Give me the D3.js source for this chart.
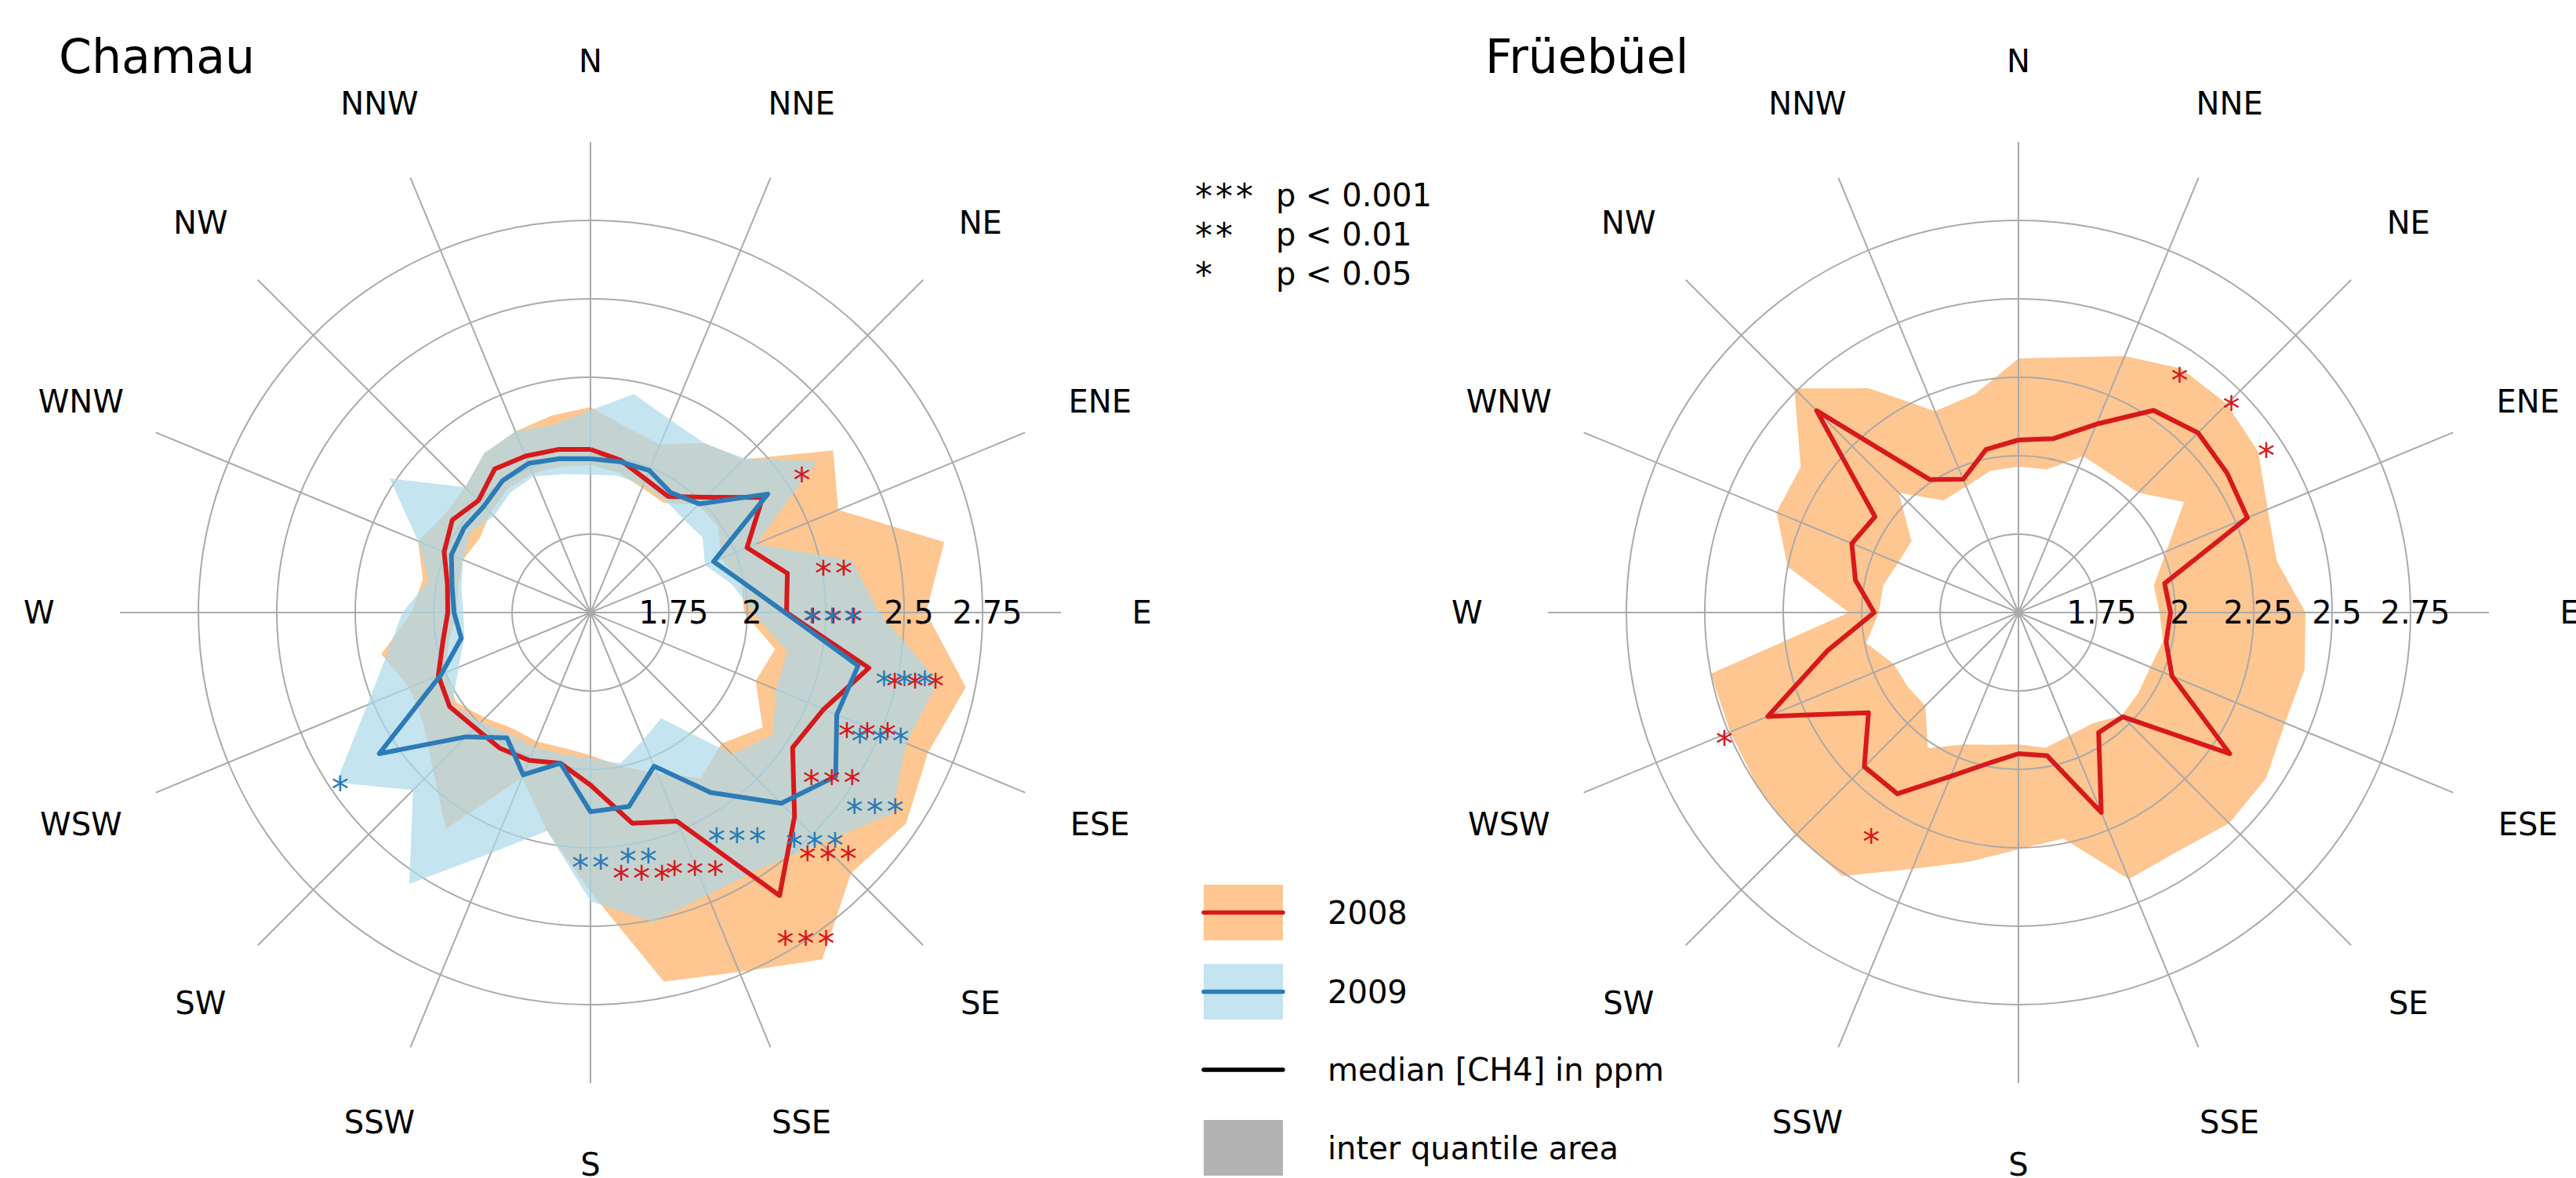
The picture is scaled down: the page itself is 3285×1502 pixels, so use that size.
<!DOCTYPE html>
<html>
<head>
<meta charset="utf-8">
<script src="https://cdn.jsdelivr.net/npm/d3@7"></script>
<style>
body { margin: 0; background: #fff; }
svg { font-family: "DejaVu Sans", sans-serif; display: block; }
</style>
</head>
<body>
<svg id="chart"></svg>
<script>
var directions = ["N", "NNE", "NE", "ENE", "E", "ESE", "SE", "SSE", "S", "SSW", "SW", "WSW", "W", "WNW", "NW", "NNW"];
var ringTicks = [1.75, 2, 2.25, 2.5, 2.75];
var chamauTickLabels = [1.75, 2, 2.5, 2.75];
var fruebuelTickLabels = [1.75, 2, 2.25, 2.5, 2.75];

// 32 sectors of 11.25 deg, from N clockwise, median [CH4] in ppm
var chamauMedian2008 = [2.02, 1.995, 1.96, 1.945, 2.02, 2.16, 2.04, 2.14, 2.125, 2.405, 2.305, 2.275, 2.42, 2.585, 2.22, 2.185,
    2.05, 1.99, 2.01, 2.02, 2.02, 2.04, 2.025, 1.98, 1.955, 1.965, 2.005, 2.03, 2.005, 2.05, 2.04, 2.03];
var chamauLower2008 = [1.97, 1.955, 1.93, 1.92, 1.985, 1.99, 1.95, 1.99, 1.99, 2.1, 2.07, 2.16, 2.09, 2.135, 2.055, 2.0,
    1.955, 1.94, 1.945, 1.945, 1.975, 2.015, 2.0, 1.96, 1.925, 1.93, 1.94, 1.925, 1.95, 1.975, 1.98, 1.975];
var chamauUpper2008 = [2.155, 2.1, 2.08, 2.15, 2.19, 2.43, 2.355, 2.65, 2.57, 2.72, 2.665, 2.71, 2.675, 2.83, 2.74, 2.7,
    2.39, 2.21, 2.07, 2.33, 2.21, 2.14, 2.125, 2.18, 2.07, 2.045, 2.095, 2.06, 2.065, 2.11, 2.125, 2.14];

var chamauMedian2009 = [1.99, 1.99, 1.99, 1.96, 1.99, 2.18, 1.925, 1.995, 2.12, 2.37, 2.35, 2.44, 2.36, 2.19, 2.03, 2.13,
    2.135, 1.99, 2.06, 1.98, 2.06, 2.31, 2.015, 1.92, 1.935, 1.95, 1.98, 1.985, 1.98, 2.005, 2.015, 2.0];
var chamauLower2009 = [1.94, 1.945, 1.94, 1.93, 1.92, 1.93, 1.895, 1.96, 2.02, 2.14, 2.14, 2.2, 2.14, 1.905, 1.94, 1.99,
    1.965, 1.96, 1.965, 1.965, 1.995, 2.03, 1.955, 1.91, 1.905, 1.92, 1.94, 1.96, 1.935, 1.96, 1.97, 1.95];
var chamauUpper2009 = [2.145, 2.21, 2.165, 2.15, 2.195, 2.37, 2.07, 2.35, 2.42, 2.63, 2.59, 2.655, 2.54, 2.48, 2.475, 2.505,
    2.42, 2.21, 2.33, 2.54, 2.3, 2.475, 2.27, 2.16, 2.1, 2.025, 2.095, 2.27, 2.065, 2.11, 2.125, 2.11];

var fruebuelMedian2008 = [2.05, 2.065, 2.15, 2.275, 2.31, 2.3, 2.29, 1.975, 1.985, 1.98, 2.03, 2.31, 1.97, 1.96, 2.19, 1.965,
    1.95, 1.99, 2.065, 2.195, 2.195, 2.075, 2.365, 2.12, 1.96, 2.03, 2.075, 2.05, 2.41, 2.01, 1.96, 2.03];
var fruebuelLower2008 = [1.965, 1.965, 2.04, 2.03, 2.04, 2.135, 2.01, 1.94, 1.95, 1.97, 1.955, 1.96, 1.965, 1.925, 1.925, 1.94,
    1.92, 1.93, 1.955, 2.02, 1.92, 1.925, 1.93, 1.995, 1.945, 1.94, 1.915, 1.91, 2.04, 1.93, 1.935, 1.96];
var fruebuelUpper2008 = [2.31, 2.33, 2.385, 2.435, 2.44, 2.42, 2.36, 2.34, 2.415, 2.43, 2.42, 2.45, 2.45, 2.415, 2.42, 2.235,
    2.255, 2.31, 2.385, 2.51, 2.505, 2.5, 2.495, 2.5, 2.04, 2.25, 2.335, 2.335, 2.51, 2.36, 2.195, 2.21];

// significance per sector
var chamauSig2008 = ["", "", "", "", "", "*", "", "**", "***", "***", "***", "***", "***", "***", "***", "***",
    "", "", "", "", "", "", "", "", "", "", "", "", "", "", "", ""];
var chamauSig2009 = ["", "", "", "", "", "", "", "", "***", "***", "***", "***", "***", "***", "", "**",
    "**", "", "", "", "", "*", "", "", "", "", "", "", "", "", "", ""];
var fruebuelSig2008 = ["", "", "", "*", "*", "*", "", "", "", "", "", "", "", "", "", "",
    "", "", "", "*", "", "", "*", "", "", "", "", "", "", "", "", ""];

var sigLevels = ["***", "**", "*"];
var sigLabels = ["p < 0.001", "p < 0.01", "p < 0.05"];
var legendLabels = ["2008", "2009", "median [CH4] in ppm", "inter quantile area"];

var width = 3285,
    height = 1502;
var red = "#d7191c", blue = "#2c7bb6", orangeFill = "#fdae61", blueFill = "#abd9e9";

var svg = d3.select("#chart")
    .attr("width", width)
    .attr("height", height);

var r = d3.scaleLinear().domain([1.5, 3]).range([0, 600]);
var angle = d3.scaleLinear().domain([0, 32]).range([0, 2 * Math.PI]);

function closed(a) { return a.concat([a[0]]); }

var medianLine = d3.lineRadial()
    .angle(function(d, i) { return angle(i); })
    .radius(function(d) { return r(d); })
    .curve(d3.curveLinear);

var iqrArea = d3.areaRadial()
    .angle(function(d, i) { return angle(i); })
    .innerRadius(function(d) { return r(d[0]); })
    .outerRadius(function(d) { return r(d[1]); })
    .curve(d3.curveLinear);

function px(k, v) { var a = angle(k); return [r(v) * Math.sin(a), -r(v) * Math.cos(a)]; }

function drawArea(g, lower, upper, color) {
    g.append("path")
        .datum(closed(d3.zip(lower, upper)))
        .attr("fill", color)
        .attr("fill-opacity", 0.7)
        .attr("d", iqrArea);
}

function drawGrid(g) {
    g.selectAll(".ring")
        .data(ringTicks)
        .enter().append("circle")
        .attr("r", function(d) { return r(d); })
        .attr("fill", "none")
        .attr("stroke", "#aaaaaa")
        .attr("stroke-width", 2);
    g.selectAll(".spoke")
        .data(d3.range(16))
        .enter().append("line")
        .attr("x1", 0).attr("y1", 0)
        .attr("x2", function(d) { return px(d * 2, 3)[0]; })
        .attr("y2", function(d) { return px(d * 2, 3)[1]; })
        .attr("stroke", "#aaaaaa")
        .attr("stroke-width", 2);
}

function drawLine(g, values, color) {
    g.append("path")
        .datum(closed(values))
        .attr("fill", "none")
        .attr("stroke", color)
        .attr("stroke-width", 6)
        .attr("stroke-linejoin", "round")
        .attr("d", medianLine);
}

function drawLabels(g, tickLabels) {
    g.selectAll(".tick")
        .data(tickLabels)
        .enter().append("text")
        .attr("x", function(d) { return r(d) + 6; })
        .attr("y", 0)
        .attr("dy", "0.36em")
        .attr("text-anchor", "middle")
        .style("font-size", "40px")
        .text(function(d) { return d; });
    g.selectAll(".dir")
        .data(directions)
        .enter().append("text")
        .attr("x", function(d, i) { return px(i * 2, 3.258)[0]; })
        .attr("y", function(d, i) { return px(i * 2, 3.258)[1]; })
        .attr("dy", "0.36em")
        .attr("text-anchor", "middle")
        .style("font-size", "40px")
        .text(function(d) { return d; });
}

function drawStars(g, sig, median, color) {
    g.selectAll(null)
        .data(sig.map(function(s, k) { return {s: s, k: k}; }).filter(function(d) { return d.s; }))
        .enter().append("text")
        .attr("x", function(d) { return px(d.k, median[d.k] + 0.15)[0] + 2; })
        .attr("y", function(d) { return px(d.k, median[d.k] + 0.15)[1]; })
        .attr("dy", "0.62em")
        .attr("text-anchor", "middle")
        .attr("fill", color)
        .style("font-size", "44px")
        .style("letter-spacing", "4px")
        .text(function(d) { return d.s; });
}

// Chamau
var gl = svg.append("g").attr("transform", "translate(753,781)");
drawArea(gl, chamauLower2008, chamauUpper2008, orangeFill);
drawGrid(gl);
drawArea(gl, chamauLower2009, chamauUpper2009, blueFill);
drawLine(gl, chamauMedian2008, red);
drawLine(gl, chamauMedian2009, blue);
drawLabels(gl, chamauTickLabels);
drawStars(gl, chamauSig2008, chamauMedian2008, red);
drawStars(gl, chamauSig2009, chamauMedian2009, blue);

// Fruebuel
var gr = svg.append("g").attr("transform", "translate(2574,781)");
drawArea(gr, fruebuelLower2008, fruebuelUpper2008, orangeFill);
drawGrid(gr);
drawLine(gr, fruebuelMedian2008, red);
drawLabels(gr, fruebuelTickLabels);
drawStars(gr, fruebuelSig2008, fruebuelMedian2008, red);

svg.append("text")
    .attr("x", 75).attr("y", 93)
    .style("font-size", "60px")
    .text("Chamau");
svg.append("text")
    .attr("x", 1894).attr("y", 93)
    .style("font-size", "60px")
    .text("Früebüel");

// significance legend
var sig = svg.append("g");
sig.selectAll(".lvl")
    .data(sigLevels)
    .enter().append("text")
    .attr("x", 1524)
    .attr("y", function(d, i) { return 266 + i * 50; })
    .style("font-size", "44px")
    .style("letter-spacing", "4px")
    .text(function(d) { return d; });
sig.selectAll(".lbl")
    .data(sigLabels)
    .enter().append("text")
    .attr("x", 1627)
    .attr("y", function(d, i) { return 263 + i * 50; })
    .style("font-size", "40px")
    .text(function(d) { return d; });

// legend
var leg = svg.append("g");
var rowY = [1163.5, 1264.5, 1364, 1463.5];
leg.append("rect").attr("x", 1535).attr("y", rowY[0] - 35.5).attr("width", 101).attr("height", 71)
    .attr("fill", orangeFill).attr("fill-opacity", 0.7);
leg.append("rect").attr("x", 1535).attr("y", rowY[1] - 35.5).attr("width", 101).attr("height", 71)
    .attr("fill", blueFill).attr("fill-opacity", 0.7);
leg.append("rect").attr("x", 1535).attr("y", rowY[3] - 35.5).attr("width", 101).attr("height", 71)
    .attr("fill", "#b3b3b3");
[red, blue, "#000"].forEach(function(c, i) {
    leg.append("line")
        .attr("x1", 1535).attr("x2", 1636)
        .attr("y1", rowY[i]).attr("y2", rowY[i])
        .attr("stroke", c)
        .attr("stroke-width", 5.5)
        .attr("stroke-linecap", "round");
});
leg.selectAll(".txt")
    .data(legendLabels)
    .enter().append("text")
    .attr("x", 1693)
    .attr("y", function(d, i) { return rowY[i]; })
    .attr("dy", "0.36em")
    .style("font-size", "40px")
    .text(function(d) { return d; });
</script>
</body>
</html>
